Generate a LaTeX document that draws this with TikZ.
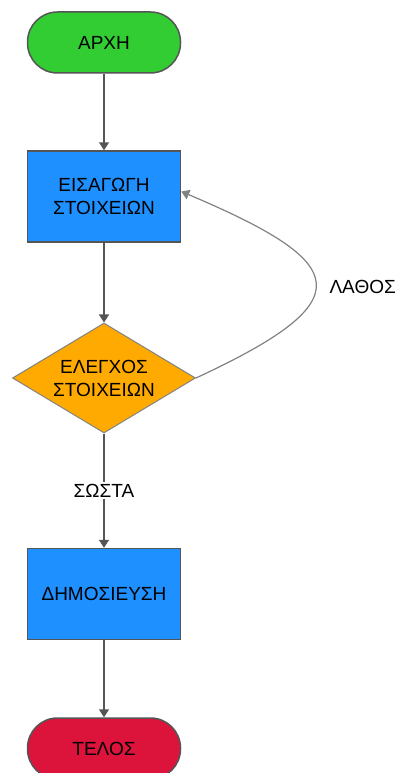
\documentclass[tikz,border=0pt]{standalone}
\usepackage{fontspec}
\setmainfont{Liberation Sans}
\usepackage{xcolor}
\usepackage{tikz}
\usetikzlibrary{shapes,arrows,arrows.meta,positioning,calc}
\usetikzlibrary{shapes.geometric}

\definecolor{startgreen}{RGB}{50,205,50}
\definecolor{boxblue}{RGB}{30,144,255}
\definecolor{checkorange}{RGB}{255,170,0}
\definecolor{endred}{RGB}{220,20,60}
\definecolor{edgegrey}{RGB}{85,85,85}
\definecolor{loopgrey}{RGB}{130,130,130}

\tikzset{
	terminal/.style={draw=edgegrey,line width=1.5pt,rounded corners=30pt,minimum width=153pt,minimum height=61pt,inner sep=0pt},
	process/.style={draw=edgegrey,line width=1.5pt,fill=boxblue,minimum width=153pt,minimum height=91pt,align=center,inner sep=0pt},
	decision/.style={draw=loopgrey,line width=1pt,fill=checkorange,diamond,minimum width=183pt,minimum height=110pt,aspect=1.66,align=center,inner sep=0pt},
	flow/.style={-{Triangle[length=8pt,width=10pt]},draw=edgegrey,line width=1.5pt},
	backflow/.style={-{Triangle[length=8pt,width=10pt]},draw=loopgrey,line width=1.2pt},
}

\begin{document}
\begin{tikzpicture}[x=1pt,y=-1pt,font=\fontsize{19}{23}\selectfont]
	\useasboundingbox (0,0) rectangle (398,773);
	\node[terminal,fill=startgreen] (start) at (104,42.5) {ΑΡΧΗ};
	\node[process] (input) at (104,196.5) {ΕΙΣΑΓΩΓΗ\\ΣΤΟΙΧΕΙΩΝ};
	\node[decision] (check) at (104,378) {ΕΛΕΓΧΟΣ\\ΣΤΟΙΧΕΙΩΝ};
	\node[process] (publish) at (104,594) {ΔΗΜΟΣΙΕΥΣΗ};
	\node[terminal,fill=endred] (end) at (104,748.5) {ΤΕΛΟΣ};
	\draw[flow] (start) -- (input);
	\draw[flow] (input) -- (check);
	\draw[flow] (check) -- node[fill=white,inner sep=2pt] {ΣΩΣΤΑ} (publish);
	\draw[flow] (publish) -- (end);
	% back to input when wrong
	\draw[backflow] (check.east) .. controls +(168,-78) and +(170,72) .. ([yshift=5]input.east);
	\node[anchor=west] (wrong) at (326,287) {ΛΑΘΟΣ};
\end{tikzpicture}
\end{document}
